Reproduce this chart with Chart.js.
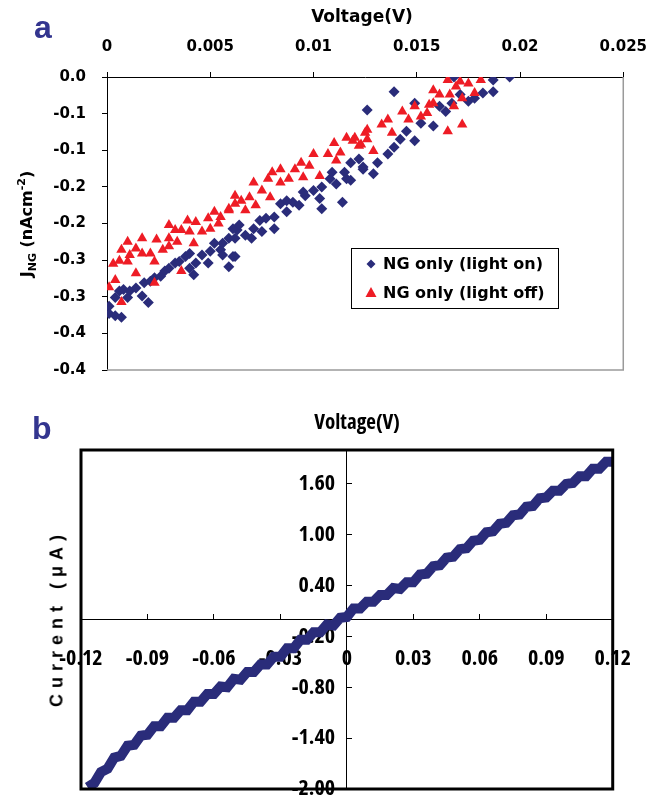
<!DOCTYPE html>
<html>
<head>
<meta charset="utf-8">
<script src="https://cdn.jsdelivr.net/npm/chart.js@4"></script>
<style>
  html, body { margin: 0; padding: 0; background: #fff; overflow: hidden; }
  #wrap { position: relative; width: 663px; height: 797px; overflow: hidden; }
  canvas { position: absolute; left: 0; }
  #chartA { top: 0; }
  #chartB { top: 395px; }
  .lbl { position: absolute; white-space: nowrap; line-height: 1; color: #000; }
  .center { transform: translate(-50%, -50%); }
  .rot { transform: translate(-50%, -50%) rotate(-90deg); }
  .panel { font: bold 32px "Liberation Sans", Arial, sans-serif; color: #33358f; }
  .titleA { font: bold 17px "DejaVu Sans", Verdana, sans-serif; }
  .titleA sub, .titleA sup { font-size: 11px; }
  .titleB { font: bold condensed 21px "Open Sans", sans-serif; }
  .currB { font: bold 18px "Liberation Sans", Arial, sans-serif; letter-spacing: 6px; }
</style>
</head>
<body>
<div id="wrap">
  <canvas id="chartA" width="663" height="395"></canvas>
  <canvas id="chartB" width="663" height="420"></canvas>

  <div class="lbl panel" style="left:34px; top:9px;">a</div>
  <div class="lbl titleA center" style="left:362px; top:16px;">Voltage(V)</div>
  <div class="lbl titleA rot" style="left:27px; top:224px; font-size:16px;">J<sub>NG</sub> (nAcm<sup>-2</sup>)</div>

  <div class="lbl panel" style="left:32px; top:410px;">b</div>
  <div class="lbl titleB center" style="left:357px; top:421px;">Voltage(V)</div>
  <div class="lbl currB rot" style="left:57px; top:618px;">Current (μA)</div>
</div>

<script>
// ---- panel a: J_NG vs voltage ----
const seriesNamesA = ["NG only (light on)", "NG only (light off)"];

// light on (navy diamonds)
const onV = [0.0001, 0.0001, 0.0004, 0.0007, 0.0004, 0.0006, 0.0008, 0.0010, 0.0011, 0.0014,
  0.0017, 0.0018, 0.0020, 0.0021, 0.0023, 0.0026, 0.0028, 0.0030, 0.0033, 0.0035,
  0.0038, 0.0040, 0.0040, 0.0042, 0.0043, 0.0046, 0.0049, 0.0050, 0.0052, 0.0055,
  0.0059, 0.0059, 0.0062, 0.0063, 0.0056, 0.0061, 0.0064, 0.0067, 0.0071, 0.0074,
  0.0075, 0.0081, 0.0081, 0.0084, 0.0087, 0.0090, 0.0093, 0.0096, 0.0100, 0.0103,
  0.0104, 0.0104, 0.0108, 0.0111, 0.0114, 0.0115, 0.0118, 0.0122, 0.0124, 0.0118,
  0.0124, 0.0129, 0.0131, 0.0136, 0.0139, 0.0142, 0.0145, 0.0149, 0.0149, 0.0152,
  0.0158, 0.0161, 0.0164, 0.0167, 0.0171, 0.0175, 0.0178, 0.0182, 0.0187, 0.0187,
  0.0195, 0.0139, 0.0126, 0.0168, 0.0062, 0.0070, 0.0077, 0.0087, 0.0095, 0.0109,
  0.0116, 0.0056, 0.0061];
const onJ = [-0.313, -0.323, -0.326, -0.328, -0.301, -0.292, -0.290, -0.301, -0.292, -0.288,
  -0.299, -0.281, -0.308, -0.279, -0.274, -0.272, -0.265, -0.261, -0.254, -0.252,
  -0.245, -0.241, -0.261, -0.270, -0.254, -0.243, -0.254, -0.238, -0.227, -0.236,
  -0.220, -0.259, -0.245, -0.209, -0.227, -0.207, -0.202, -0.216, -0.207, -0.196,
  -0.211, -0.207, -0.191, -0.173, -0.184, -0.171, -0.175, -0.162, -0.155, -0.166,
  -0.180, -0.150, -0.139, -0.146, -0.171, -0.130, -0.117, -0.112, -0.126, -0.141,
  -0.123, -0.132, -0.117, -0.105, -0.096, -0.085, -0.074, -0.087, -0.036, -0.063,
  -0.067, -0.040, -0.047, -0.036, -0.024, -0.033, -0.029, -0.022, -0.020, -0.004,
  0.000, -0.020, -0.045, 0.000, -0.220, -0.220, -0.193, -0.169, -0.157, -0.130,
  -0.139, -0.243, -0.245];

// light off (red triangles)
const offV = [0.0001, 0.0004, 0.0007, 0.0003, 0.0006, 0.0007, 0.0010, 0.0010, 0.0011, 0.0014,
  0.0014, 0.0017, 0.0017, 0.0021, 0.0023, 0.0023, 0.0024, 0.0027, 0.0030, 0.0030,
  0.0030, 0.0033, 0.0034, 0.0036, 0.0036, 0.0039, 0.0040, 0.0042, 0.0043, 0.0046,
  0.0049, 0.0050, 0.0052, 0.0054, 0.0059, 0.0062, 0.0055, 0.0059, 0.0062, 0.0065,
  0.0067, 0.0069, 0.0071, 0.0072, 0.0075, 0.0078, 0.0079, 0.0080, 0.0084, 0.0084,
  0.0088, 0.0091, 0.0094, 0.0095, 0.0098, 0.0100, 0.0103, 0.0107, 0.0110, 0.0111,
  0.0113, 0.0116, 0.0120, 0.0122, 0.0125, 0.0119, 0.0123, 0.0126, 0.0126, 0.0129,
  0.0133, 0.0136, 0.0138, 0.0143, 0.0146, 0.0149, 0.0152, 0.0155, 0.0158, 0.0158,
  0.0161, 0.0165, 0.0166, 0.0165, 0.0168, 0.0171, 0.0172, 0.0172, 0.0175, 0.0178,
  0.0181, 0.0169, 0.0156];
const offJ = [-0.287, -0.277, -0.307, -0.255, -0.251, -0.236, -0.225, -0.252, -0.243, -0.234,
  -0.268, -0.220, -0.241, -0.241, -0.252, -0.281, -0.222, -0.236, -0.202, -0.220,
  -0.231, -0.209, -0.225, -0.265, -0.209, -0.196, -0.211, -0.227, -0.198, -0.211,
  -0.193, -0.207, -0.184, -0.200, -0.182, -0.173, -0.191, -0.180, -0.162, -0.169,
  -0.182, -0.164, -0.144, -0.175, -0.155, -0.139, -0.164, -0.130, -0.126, -0.144,
  -0.139, -0.126, -0.117, -0.137, -0.121, -0.105, -0.135, -0.105, -0.090, -0.114,
  -0.103, -0.083, -0.083, -0.094, -0.076, -0.087, -0.092, -0.072, -0.085, -0.101,
  -0.065, -0.058, -0.076, -0.047, -0.058, -0.040, -0.054, -0.049, -0.018, -0.036,
  -0.024, -0.004, -0.024, -0.074, -0.040, -0.006, -0.065, -0.029, -0.009, -0.022,
  -0.004, -0.013, -0.038];

const xTicksA = [0, 0.005, 0.01, 0.015, 0.02, 0.025];
const xTickLabelsA = ["0", "0.005", "0.01", "0.015", "0.02", "0.025"];
const yTicksA = [0, -0.05, -0.1, -0.15, -0.2, -0.25, -0.3, -0.35, -0.4];
const yTickLabelsA = ["0.0", "-0.1", "-0.1", "-0.2", "-0.2", "-0.3", "-0.3", "-0.4", "-0.4"];

// ---- panel b: current vs voltage ----
const bV = [-0.117, -0.114, -0.111, -0.108, -0.105, -0.102, -0.099, -0.096, -0.093, -0.090,
  -0.087, -0.084, -0.081, -0.078, -0.075, -0.072, -0.069, -0.066, -0.063, -0.060,
  -0.057, -0.054, -0.051, -0.048, -0.045, -0.042, -0.039, -0.036, -0.033, -0.030,
  -0.027, -0.024, -0.021, -0.018, -0.015, -0.012, -0.009, -0.006, -0.003, 0.000,
  0.003, 0.006, 0.009, 0.012, 0.015, 0.018, 0.021, 0.024, 0.027, 0.030,
  0.033, 0.036, 0.039, 0.042, 0.045, 0.048, 0.051, 0.054, 0.057, 0.060,
  0.063, 0.066, 0.069, 0.072, 0.075, 0.078, 0.081, 0.084, 0.087, 0.090,
  0.093, 0.096, 0.099, 0.102, 0.105, 0.108, 0.111, 0.114, 0.117, 0.120];
const bI = [-1.98, -1.93, -1.80, -1.76, -1.63, -1.61, -1.49, -1.48, -1.37, -1.36,
  -1.26, -1.26, -1.16, -1.16, -1.07, -1.07, -0.97, -0.97, -0.88, -0.88,
  -0.79, -0.80, -0.70, -0.71, -0.62, -0.62, -0.53, -0.53, -0.44, -0.44,
  -0.34, -0.34, -0.24, -0.24, -0.15, -0.15, -0.06, -0.07, 0.02, 0.03,
  0.13, 0.13, 0.21, 0.21, 0.29, 0.29, 0.37, 0.36, 0.44, 0.44,
  0.53, 0.54, 0.63, 0.64, 0.73, 0.74, 0.83, 0.84, 0.93, 0.94,
  1.03, 1.04, 1.13, 1.14, 1.23, 1.24, 1.33, 1.34, 1.43, 1.44,
  1.52, 1.52, 1.60, 1.61, 1.69, 1.69, 1.78, 1.78, 1.86, 1.86];

const xTicksB = [-0.12, -0.09, -0.06, -0.03, 0, 0.03, 0.06, 0.09, 0.12];
const xTickLabelsB = ["-0.12", "-0.09", "-0.06", "-0.03", "0", "0.03", "0.06", "0.09", "0.12"];
const yTicksB = [-2, -1.4, -0.8, -0.2, 0.4, 1.0, 1.6];
const yTickLabelsB = ["-2.00", "-1.40", "-0.80", "-0.20", "0.40", "1.00", "1.60"];

const navy = "#2a2c7a";
const red = "#ee1c25";
const FONT_A = '"DejaVu Sans", Verdana, sans-serif';
const FONT_B = '"Open Sans", sans-serif';

// gray right/bottom border + legend box of panel a
const frameA = {
  id: "frameA",
  afterDraw(chart) {
    const {ctx, chartArea: ca} = chart;
    ctx.save();
    ctx.strokeStyle = "#9a9a9a";
    ctx.lineWidth = 1.5;
    ctx.beginPath();
    ctx.moveTo(ca.right, ca.top);
    ctx.lineTo(ca.right, ca.bottom);
    ctx.lineTo(ca.left, ca.bottom);
    ctx.stroke();

    // legend
    ctx.fillStyle = "#fff";
    ctx.fillRect(351.5, 248.5, 207, 60);
    ctx.strokeStyle = "#000";
    ctx.lineWidth = 1;
    ctx.strokeRect(351.5, 248.5, 207, 60);
    ctx.font = "bold 16px " + FONT_A;
    ctx.textBaseline = "middle";
    chart.data.datasets.forEach((ds, i) => {
      const cy = 264 + i * 29, cx = 371;
      ctx.fillStyle = ds.backgroundColor;
      ctx.beginPath();
      if (ds.pointStyle === "rectRot") {
        ctx.moveTo(cx - 4.5, cy); ctx.lineTo(cx, cy - 4.5);
        ctx.lineTo(cx + 4.5, cy); ctx.lineTo(cx, cy + 4.5);
      } else {
        ctx.moveTo(cx, cy - 6); ctx.lineTo(cx + 5.5, cy + 4); ctx.lineTo(cx - 5.5, cy + 4);
      }
      ctx.closePath();
      ctx.fill();
      ctx.fillStyle = "#000";
      ctx.fillText(ds.label, 383, cy + 1);
    });
    ctx.restore();
  }
};

new Chart(document.getElementById("chartA"), {
  type: "scatter",
  data: {
    datasets: [
      {
        label: seriesNamesA[0],
        data: onV.map((v, i) => ({x: v, y: onJ[i]})),
        pointStyle: "rectRot", pointRadius: 5.5, borderWidth: 0,
        backgroundColor: navy, borderColor: navy, order: 1
      },
      {
        label: seriesNamesA[1],
        data: offV.map((v, i) => ({x: v, y: offJ[i]})),
        pointStyle: "triangle", pointRadius: 6, borderWidth: 0,
        backgroundColor: red, borderColor: red, order: 0
      }
    ]
  },
  options: {
    responsive: false, animation: false, devicePixelRatio: 1,
    layout: {padding: {left: 0, top: 0, right: 38, bottom: 22}},
    plugins: {legend: {display: false}, tooltip: {enabled: false}},
    scales: {
      x: {
        type: "linear", position: "top", min: 0, max: 0.025,
        afterBuildTicks: s => { s.ticks = xTicksA.map(v => ({value: v})); },
        afterFit: s => { s.height = 77; },
        grid: {drawOnChartArea: false, tickLength: 5, color: "#000"},
        border: {display: true, color: "#000", width: 1},
        ticks: {
          padding: 16, maxRotation: 0, autoSkip: false, color: "#000",
          font: {family: FONT_A, weight: "bold", size: 15},
          callback: (v, i) => xTickLabelsA[i]
        }
      },
      y: {
        type: "linear", position: "left", min: -0.4, max: 0,
        afterBuildTicks: s => { s.ticks = yTicksA.map(v => ({value: v})); },
        afterFit: s => { s.width = 107; },
        grid: {drawOnChartArea: false, tickLength: 5, color: "#000"},
        border: {display: true, color: "#000", width: 1},
        ticks: {
          padding: 16, autoSkip: false, color: "#000",
          font: {family: FONT_A, weight: "bold", size: 15},
          callback: (v, i) => yTickLabelsA[i]
        }
      }
    }
  },
  plugins: [frameA]
});

// thick black frame of panel b
const frameB = {
  id: "frameB",
  afterDraw(chart) {
    const {ctx, chartArea: ca} = chart;
    ctx.save();
    ctx.strokeStyle = "#000";
    ctx.lineWidth = 3;
    ctx.strokeRect(ca.left, ca.top, ca.right - ca.left, ca.bottom - ca.top);
    ctx.restore();
  }
};

new Chart(document.getElementById("chartB"), {
  type: "line",
  data: {
    datasets: [{
      data: bV.map((v, i) => ({x: v, y: bI[i]})),
      borderColor: navy, borderWidth: 10, pointRadius: 0, fill: false, tension: 0
    }]
  },
  options: {
    responsive: false, animation: false, devicePixelRatio: 1,
    layout: {padding: {left: 81, top: 55, right: 43, bottom: 26}},
    plugins: {legend: {display: false}, tooltip: {enabled: false}},
    scales: {
      x: {
        type: "linear", position: {y: 0}, min: -0.12, max: 0.12,
        afterBuildTicks: s => { s.ticks = xTicksB.map(v => ({value: v})); },
        grid: {drawOnChartArea: false, tickLength: -6, color: "#000"},
        border: {display: true, color: "#000", width: 1},
        ticks: {
          padding: 32, maxRotation: 0, autoSkip: false, color: "#000",
          font: {family: FONT_B, weight: "bold condensed", size: 22},
          callback: (v, i) => xTickLabelsB[i]
        }
      },
      y: {
        type: "linear", position: {x: 0}, min: -2, max: 2,
        afterBuildTicks: s => { s.ticks = yTicksB.map(v => ({value: v})); },
        grid: {drawOnChartArea: false, tickLength: -6, color: "#000"},
        border: {display: true, color: "#000", width: 1},
        ticks: {
          padding: 0, autoSkip: false, color: "#000",
          font: {family: FONT_B, weight: "bold condensed", size: 22},
          callback: (v, i) => yTickLabelsB[i] + "   "
        }
      }
    }
  },
  plugins: [frameB]
});
</script>
</body>
</html>
